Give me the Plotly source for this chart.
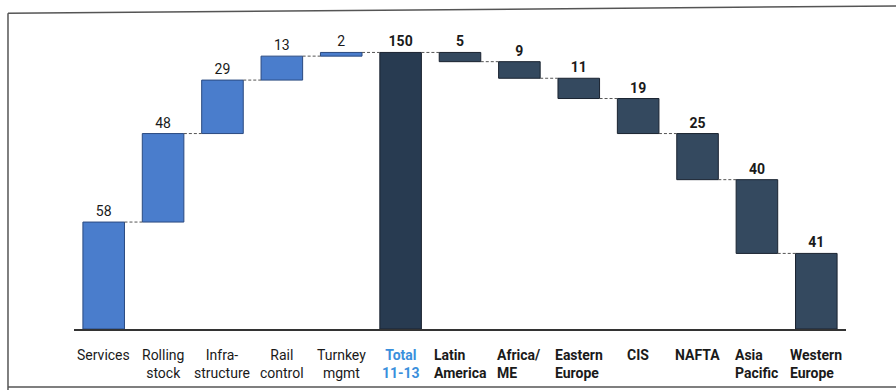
import plotly.graph_objects as go

categories = ["Services", "Rolling stock", "Infra-structure", "Rail control", "Turnkey mgmt",
              "Total 11-13", "Latin America", "Africa/ ME", "Eastern Europe", "CIS", "NAFTA",
              "Asia Pacific", "Western Europe"]
tick_lines = [["Services"], ["Rolling", "stock"], ["Infra-", "structure"], ["Rail", "control"],
              ["Turnkey", "mgmt"], ["Total", "11-13"], ["Latin", "America"], ["Africa/", "ME"],
              ["Eastern", "Europe"], ["CIS"], ["NAFTA"], ["Asia", "Pacific"], ["Western", "Europe"]]
values = [58, 48, 29, 13, 2, 150, 5, 9, 11, 19, 25, 40, 41]
kinds = ["up", "up", "up", "up", "up", "total", "down", "down", "down", "down", "down", "down", "down"]

BLUE, BLUE_LINE = "#4a7dcc", "#2a4a80"
DARK, DARK_LINE = "#34495f", "#1a2330"
TOTAL = "#283b51"
FONT = "Roboto"

# bases and running totals computed from the data
bases, after = [], []
run = 0
for v, k in zip(values, kinds):
    if k == "up":
        bases.append(run); run += v
    elif k == "total":
        bases.append(0); run = v
    else:
        run -= v; bases.append(run)
    after.append(run)

fills = [BLUE if k == "up" else (TOTAL if k == "total" else DARK) for k in kinds]
lines = [BLUE_LINE if k == "up" else DARK_LINE for k in kinds]
texts = [str(v) if k == "up" else f"<b>{v}</b>" for v, k in zip(values, kinds)]

fig = go.Figure()
fig.add_trace(go.Bar(
    x=categories, y=values, base=bases, width=0.7,
    marker=dict(color=fills, line=dict(color=lines, width=1)),
    text=texts, textposition="outside", cliponaxis=False,
    textfont=dict(family=FONT, size=14, color="#1a1a1a"),
    hoverinfo="skip",
))

shapes = []
bw = 0.7
for i in range(len(values) - 1):
    lvl = after[i]
    shapes.append(dict(type="line", xref="x", yref="y",
                       x0=i + bw / 2, x1=i + 1 - bw / 2, y0=lvl, y1=lvl,
                       line=dict(color="#555", width=1, dash="3px,2px")))

# outer frame (scanned page box)
frame = dict(color="#555", width=1.5)
shapes += [
    dict(type="line", xref="paper", yref="paper", x0=-0.0855, x1=1.065, y0=1.07, y1=1.095, line=frame),
    dict(type="line", xref="paper", yref="paper", x0=-0.0855, x1=-0.0855, y0=1.07, y1=-0.21, line=frame),
    dict(type="line", xref="paper", yref="paper", x0=-0.0855, x1=1.065, y0=-0.197, y1=-0.197, line=frame),
]

annotations = []
for i, (cat, ln, k) in enumerate(zip(categories, tick_lines, kinds)):
    if k == "total":
        txt = "<br>".join(f"<b>{s}</b>" for s in ln)
        col = "#3a8fdc"
        align = "center"
    elif k == "down":
        txt = "<br>".join(f"<b>{s}</b>" for s in ln)
        col = "#1a1a1a"
        align = "left"
    else:
        txt = "<br>".join(ln)
        col = "#1a1a1a"
        align = "center"
    annotations.append(dict(x=cat, y=-0.055, xref="x", yref="paper", text=txt,
                            showarrow=False, xanchor="center", yanchor="top", align=align,
                            font=dict(family=FONT, size=14, color=col)))

fig.update_layout(
    width=896, height=390,
    margin=dict(l=74, r=50, t=34, b=61),
    paper_bgcolor="white", plot_bgcolor="white",
    showlegend=False, bargap=0.3,
    shapes=shapes, annotations=annotations,
    xaxis=dict(type="category", range=[-0.5, 12.5], showticklabels=False, ticks="",
               showgrid=False, zeroline=False, showline=True, linecolor="#333", linewidth=1.5),
    yaxis=dict(range=[0, 160], visible=False, showgrid=False, zeroline=False),
    font=dict(family=FONT, size=14, color="#1a1a1a"),
)

fig.write_html("out.html")
